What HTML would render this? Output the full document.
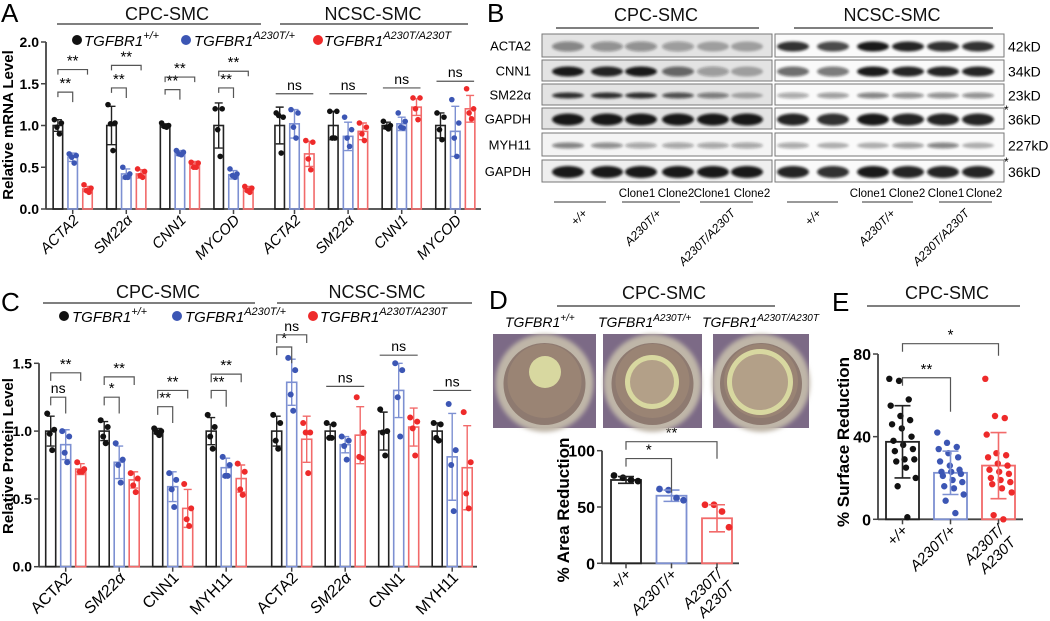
<!DOCTYPE html>
<html><head><meta charset="utf-8"><style>
html,body{margin:0;padding:0;background:#fff;}
svg{display:block;font-family:"Liberation Sans",Arial,sans-serif;}
</style></head><body>
<svg id="fig" width="1050" height="621" viewBox="0 0 1050 621" xmlns="http://www.w3.org/2000/svg">
<defs><filter id="blur" x="-20%" y="-100%" width="140%" height="300%"><feGaussianBlur stdDeviation="1.3"/></filter>
<filter id="blur2"><feGaussianBlur stdDeviation="2"/></filter></defs>
<g font-size="26" fill="#000">
<text x="1" y="22">A</text>
<text x="487" y="22">B</text>
<text x="1" y="311">C</text>
<text x="489" y="309">D</text>
<text x="832" y="311">E</text>
</g>
<g font-size="18" text-anchor="middle" fill="#111">
<text x="167" y="20">CPC-SMC</text>
<line x1="57" y1="24" x2="261" y2="24" stroke="#333" stroke-width="1.2"/>
<text x="373" y="20">NCSC-SMC</text>
<line x1="280" y1="24" x2="468" y2="24" stroke="#333" stroke-width="1.2"/>
<text x="656" y="21">CPC-SMC</text>
<line x1="556" y1="28" x2="759" y2="28" stroke="#333" stroke-width="1.2"/>
<text x="892" y="21">NCSC-SMC</text>
<line x1="794" y1="28" x2="993" y2="28" stroke="#333" stroke-width="1.2"/>
<text x="158" y="298">CPC-SMC</text>
<line x1="43" y1="303" x2="255" y2="303" stroke="#333" stroke-width="1.2"/>
<text x="377" y="298">NCSC-SMC</text>
<line x1="277" y1="303" x2="472" y2="303" stroke="#333" stroke-width="1.2"/>
<text x="664" y="299">CPC-SMC</text>
<line x1="557" y1="306" x2="775" y2="306" stroke="#333" stroke-width="1.2"/>
<text x="947" y="299">CPC-SMC</text>
<line x1="867" y1="306" x2="1020" y2="306" stroke="#333" stroke-width="1.2"/>
</g>
<g font-size="15" font-style="italic">
<circle cx="77" cy="40" r="5" fill="#111"/>
<text x="84" y="46">TGFBR1<tspan font-size="11" dy="-7">+/+</tspan></text>
<circle cx="186" cy="40" r="5" fill="#3c56b4"/>
<text x="194" y="46">TGFBR1<tspan font-size="11" dy="-7">A230T/+</tspan></text>
<circle cx="318" cy="40" r="5" fill="#ee2a2a"/>
<text x="324" y="46">TGFBR1<tspan font-size="11" dy="-7">A230T/A230T</tspan></text>
</g>
<g font-size="15" font-style="italic">
<circle cx="64" cy="316" r="5" fill="#111"/>
<text x="72" y="322">TGFBR1<tspan font-size="11" dy="-7">+/+</tspan></text>
<circle cx="177" cy="316" r="5" fill="#3c56b4"/>
<text x="185" y="322">TGFBR1<tspan font-size="11" dy="-7">A230T/+</tspan></text>
<circle cx="313" cy="316" r="5" fill="#ee2a2a"/>
<text x="320" y="322">TGFBR1<tspan font-size="11" dy="-7">A230T/A230T</tspan></text>
</g>
<g font-size="14" font-style="italic">
<text x="505" y="327">TGFBR1<tspan font-size="10" dy="-6">+/+</tspan></text>
<text x="598" y="327">TGFBR1<tspan font-size="10" dy="-6">A230T/+</tspan></text>
<text x="702" y="327">TGFBR1<tspan font-size="10" dy="-6">A230T/A230T</tspan></text>
</g>
<g id="root"></g>
</svg>
<script>
// ---------- Panel A data ----------
const aCategories = ["ACTA2","SM22α","CNN1","MYCOD","ACTA2","SM22α","CNN1","MYCOD"];
const aMeanWT  = [1.0,1.0,1.0,1.0,1.0,1.0,1.0,1.0];
const aMeanHet = [0.62,0.42,0.67,0.41,1.02,0.87,1.02,0.93];
const aMeanHom = [0.24,0.42,0.53,0.24,0.66,0.93,1.22,1.2];
const aSdWT  = [0.07,0.23,0.02,0.27,0.22,0.17,0.04,0.15];
const aSdHet = [0.05,0.06,0.03,0.05,0.17,0.17,0.08,0.30];
const aSdHom = [0.03,0.05,0.04,0.03,0.15,0.10,0.10,0.16];
const aPtsWT  = [[1.07,1.03,0.98,0.9],[1.25,1.03,1.02,0.7],[1.03,1.0,0.99,0.98],[1.2,1.2,0.95,0.63],[1.15,1.1,1.12,0.67],[1.17,1.17,0.85,0.85],[1.05,1.0,0.98,0.96],[1.15,1.1,0.95,0.83]];
const aPtsHet = [[0.66,0.64,0.62,0.55],[0.5,0.42,0.38,0.38],[0.7,0.68,0.66,0.65],[0.48,0.42,0.4,0.38],[1.19,1.15,0.98,0.85],[1.1,0.95,0.85,0.75],[1.15,1.05,0.98,0.97],[1.31,1.03,0.85,0.63]];
const aPtsHom = [[0.29,0.25,0.22,0.2],[0.48,0.45,0.4,0.38],[0.56,0.55,0.5,0.5],[0.27,0.25,0.22,0.2],[0.82,0.8,0.6,0.47],[1.03,0.98,0.9,0.82],[1.33,1.33,1.2,1.07],[1.44,1.2,1.15,1.08]];
const aTicks = [0,0.5,1.0,1.5,2.0];
const aTickLabels = ["0.0","0.5","1.0","1.5","2.0"];
const aSigLow = [1.40,1.45,1.43,1.45,null,null,null,null];
const aSigLowText = ["**","**","**","**","","","",""];
const aSigHigh = [1.67,1.72,1.58,1.65,1.38,1.38,1.45,1.53];
const aSigHighText = ["**","**","**","**","ns","ns","ns","ns"];
// ---------- Panel C data ----------
const cCategories = ["ACTA2","SM22α","CNN1","MYH11","ACTA2","SM22α","CNN1","MYH11"];
const cMeanWT  = [1.0,1.0,1.0,1.0,1.0,1.0,1.0,1.0];
const cMeanHet = [0.9,0.77,0.59,0.73,1.36,0.9,1.3,0.81];
const cMeanHom = [0.72,0.64,0.43,0.65,0.94,0.97,1.03,0.73];
const cSdWT  = [0.11,0.07,0.02,0.1,0.11,0.05,0.14,0.06];
const cSdHet = [0.11,0.12,0.11,0.07,0.17,0.06,0.2,0.32];
const cSdHom = [0.04,0.06,0.14,0.1,0.17,0.21,0.14,0.31];
const cPtsWT  = [[1.13,1.01,0.98,0.86],[1.08,1.03,0.96,0.91],[1.02,1.0,0.99,0.97],[1.12,1.03,0.96,0.87],[1.12,1.06,0.93,0.87],[1.06,1.05,0.95,0.95],[1.16,1.0,0.99,0.82],[1.06,1.05,0.95,0.93]];
const cPtsHet = [[1.0,0.96,0.84,0.77],[0.91,0.79,0.75,0.62],[0.69,0.64,0.57,0.44],[0.81,0.75,0.67,0.67],[1.54,1.45,1.27,1.15],[0.96,0.93,0.89,0.79],[1.5,1.45,1.25,0.96],[1.2,0.86,0.75,0.41]];
const cPtsHom = [[0.77,0.72,0.7,0.7],[0.69,0.65,0.6,0.55],[0.61,0.43,0.35,0.3],[0.76,0.7,0.57,0.53],[1.06,0.99,0.99,0.69],[1.25,0.99,0.81,0.8],[1.1,1.07,1.02,0.82],[1.14,0.77,0.54,0.43]];
const cTicks = [0,0.5,1.0,1.5];
const cTickLabels = ["0.0","0.5","1.0","1.5"];
const cSigLow = [1.25,1.25,1.18,1.30,1.62,null,null,null];
const cSigLowText = ["ns","*","**","**","*","","",""];
const cSigHigh = [1.43,1.40,1.30,1.42,1.71,1.33,1.56,1.30];
const cSigHighText = ["**","**","**","**","ns","ns","ns","ns"];
// ---------- Panel D data ----------
const dCategories = ["+/+","A230T/+","A230T/A230T"];
const dMeans = [74,60,40];
const dSd = [3,5,12];
const dPts = [[78,76,74,73],[66,65,58,56],[52,52,46,32]];
const dTicks = [0,50,100];
// ---------- Panel E data ----------
const eCategories = ["+/+","A230T/+","A230T/A230T"];
const eMeans = [37.5,22.5,26];
const eSd = [17.5,10.5,16];
const ePts = [[68,67,58,55,50,48,46,44,40,38,36,34,33,29,29,28,25,20,16,1],
              [42,37,35,34,32,30,28,26,24,23,23,22,21,19,18,16,15,12,9,3],
              [68,50,49,41,32,31,30,27,26,24,23,22,20,19,18,17,15,13,2,0]];
const eTicks = [0,40,80];
// ---------- Panel B (band intensities) ----------
const bRows = ["ACTA2","CNN1","SM22α","GAPDH","MYH11","GAPDH"];
const bKd = ["42kD","34kD","23kD","36kD","227kD","36kD"];
const bLeft = [[.45,.4,.4,.35,.3,.3],[.95,.9,.95,.6,.35,.3],[.85,.85,.85,.7,.5,.3],[.95,.95,.95,.95,.95,.95],[.5,.45,.35,.35,.35,.35],[.95,.95,.95,.95,.95,.95]];
const bRight = [[.85,.75,.95,.9,.85,.85],[.6,.55,.95,.9,.9,.9],[.35,.4,.5,.45,.45,.45],[.9,.85,.95,.9,.9,.9],[.35,.3,.3,.4,.5,.3],[.9,.85,.95,.9,.9,.9]];

const NS="http://www.w3.org/2000/svg";
const root=document.getElementById('root');
function mk(tag,attrs,parent){const e=document.createElementNS(NS,tag);for(const k in attrs)e.setAttribute(k,attrs[k]);(parent||root).appendChild(e);return e;}
const COL={wt:"#111",het:"#3c56b4",hom:"#ee2a2a"};
const BAR={wt:"#222",het:"#7d90d2",hom:"#f26a6a"};

function grouped(p){
  const g=mk('g',{});
  
  
  const Y=v=>p.y0-v*p.ppu;
  const X=i=>p.first+i*p.step+(i>=4?p.gap:0);
  let ax=mk('line',{x1:p.x0,y1:p.y0,x2:p.x0,y2:Y(p.ticks[p.ticks.length-1]),stroke:"#444","stroke-width":1.8},g);
  
  
  let xa=mk('line',{x1:p.x0,y1:p.y0,x2:p.xEnd,y2:p.y0,stroke:"#444","stroke-width":1.8},g);
  
  
  p.ticks.forEach((t,i)=>{
    let tk=mk('line',{x1:p.x0-5,y1:Y(t),x2:p.x0,y2:Y(t),stroke:"#444","stroke-width":1.5},g);
    
    
    let tl=mk('text',{x:p.x0-7,y:Y(t)+5,"text-anchor":"end","font-size":14,"font-weight":"bold"},g);
    tl.textContent=p.tickLabels[i];
    
    
  });
  const series=[["wt",p.mWT,p.sWT,p.pWT,-p.off],["het",p.mHet,p.sHet,p.pHet,0],["hom",p.mHom,p.sHom,p.pHom,p.off]];
  p.cats.forEach((c,i)=>{
    const cx=X(i);
    let tk=mk('line',{x1:cx,y1:p.y0,x2:cx,y2:p.y0+5,stroke:"#444","stroke-width":1.5},g);
    
    
    series.forEach(([k,m,s,pts,o])=>{
      const bx=cx+o;
      let b=mk('rect',{x:bx-p.bw/2,y:Y(m[i]),width:p.bw,height:m[i]*p.ppu,fill:"none",stroke:BAR[k],"stroke-width":1.6},g);
      
      
      let e=mk('path',{d:`M${bx},${Y(m[i]-s[i])}V${Y(m[i]+s[i])}M${bx-4},${Y(m[i]+s[i])}h8M${bx-4},${Y(m[i]-s[i])}h8`,stroke:BAR[k],"stroke-width":1.4,fill:"none"},g);
      
      
      const jit=[-3.5,3.5,-1,1.5];
      pts[i].forEach((v,j)=>{
        let d=mk('circle',{cx:bx+jit[j],cy:Y(v),r:p.r,fill:COL[k]},g);
        
        
      });
    });
    let lx=cx+7, ly=p.y0+p.lblDy;
    let lt=mk('text',{x:lx,y:ly,"text-anchor":"end","font-size":p.lblSize,transform:`rotate(-45 ${lx} ${ly})`,"font-style":(p.italicAll||c.indexOf('α')>=0)?"italic":"normal"},g);
    lt.textContent=c;
    
    
    function bracket(v,x1,x2,txt,dropL,dropR){
      if(v==null)return;
      let br=mk('path',{d:`M${x1},${Y(v-dropL)}V${Y(v)}H${x2}V${Y(v-dropR)}`,stroke:"#555","stroke-width":1.2,fill:"none"},g);
      
      
      let st=mk('text',{x:(x1+x2)/2,y:Y(v)-4,"text-anchor":"middle","font-size":txt==='ns'?14:15},g);
      st.textContent=txt;
      
      
    }
    const flat = i>=4 && !(p.sigLow[i]!=null);
    bracket(p.sigLow[i],cx-p.off,cx,p.sigLowText[i],0.06,0.12);
    if(flat){
      let v=p.sigHigh[i];
      let br=mk('path',{d:`M${cx-p.off-4},${Y(v)}H${cx+p.off+4}`,stroke:"#555","stroke-width":1.2,fill:"none"},g);
      
      
      let st=mk('text',{x:cx,y:Y(v)-4,"text-anchor":"middle","font-size":14},g);
      st.textContent=p.sigHighText[i];
      
      
    } else bracket(p.sigHigh[i],cx-p.off,cx+p.off,p.sigHighText[i],0.06,0.06);
  });
  let yt=mk('text',{x:p.ytX,y:p.ytY,"text-anchor":"middle","font-size":15,"font-weight":"bold",transform:`rotate(-90 ${p.ytX} ${p.ytY})`},g);
  yt.textContent=p.ytitle;
  
  
}
grouped({name:'panel-a-chart',x0:46,y0:209,ppu:83.5,xEnd:481,first:72.7,step:53.6,gap:7.4,off:14.8,bw:9.5,r:2.8,
  ticks:aTicks,tickLabels:aTickLabels,cats:aCategories,mWT:aMeanWT,mHet:aMeanHet,mHom:aMeanHom,sWT:aSdWT,sHet:aSdHet,sHom:aSdHom,
  pWT:aPtsWT,pHet:aPtsHet,pHom:aPtsHom,sigLow:aSigLow,sigLowText:aSigLowText,sigHigh:aSigHigh,sigHighText:aSigHighText,
  lblDy:12,lblSize:15,italicAll:true,ytitle:"Relative mRNA Level",ytX:13,ytY:125});
grouped({name:'panel-c-chart',x0:39,y0:566.7,ppu:135.6,xEnd:477,first:65.7,step:53.5,gap:12,off:15,bw:10,r:3,
  ticks:cTicks,tickLabels:cTickLabels,cats:cCategories,mWT:cMeanWT,mHet:cMeanHet,mHom:cMeanHom,sWT:cSdWT,sHet:cSdHet,sHom:cSdHom,
  pWT:cPtsWT,pHet:cPtsHet,pHom:cPtsHom,sigLow:cSigLow,sigLowText:cSigLowText,sigHigh:cSigHigh,sigHighText:cSigHighText,
  lblDy:12,lblSize:16,italicAll:false,ytitle:"Relative Protein Level",ytX:13,ytY:456});

function simple(p){
  const g=mk('g',{});
  
  
  const Y=v=>p.y0-v*p.ppu;
  const keys=["wt","het","hom"];
  let ax=mk('line',{x1:p.x0,y1:p.y0,x2:p.x0,y2:Y(p.ticks[p.ticks.length-1]),stroke:"#444","stroke-width":1.8},g);
  
  
  let xa=mk('line',{x1:p.x0,y1:p.y0,x2:p.xEnd,y2:p.y0,stroke:"#444","stroke-width":1.8},g);
  
  
  p.ticks.forEach(t=>{
    let tk=mk('line',{x1:p.x0-5,y1:Y(t),x2:p.x0,y2:Y(t),stroke:"#444","stroke-width":1.5},g);
    
    
    let tl=mk('text',{x:p.x0-7,y:Y(t)+6,"text-anchor":"end","font-size":16,"font-weight":"bold"},g);
    tl.textContent=String(t);
    
    
  });
  const cxs=[];
  p.cats.forEach((c,i)=>{
    const cx=p.first+i*p.step; cxs.push(cx); const k=keys[i];
    let b=mk('rect',{x:cx-p.bw/2,y:Y(p.means[i]),width:p.bw,height:p.means[i]*p.ppu,fill:"none",stroke:BAR[k],"stroke-width":1.8},g);
    
    
    p.pts[i].forEach((v,j)=>{
      const n=p.pts[i].length; const jx = n>4 ? ((j*7)%n/(n-1)-0.5)*p.bw*0.8 : [-12,-3,5,12][j]*p.bw/30;
      let d=mk('circle',{cx:cx+jx,cy:Y(v),r:p.r,fill:COL[k]},g);
      
      
    });
    let e=mk('path',{d:`M${cx},${Y(p.means[i]-p.sd[i])}V${Y(p.means[i]+p.sd[i])}M${cx-8},${Y(p.means[i]+p.sd[i])}h16M${cx-8},${Y(p.means[i]-p.sd[i])}h16`,stroke:BAR[k],"stroke-width":1.6,fill:"none"},g);
    
    
    let tk=mk('line',{x1:cx,y1:p.y0,x2:cx,y2:p.y0+5,stroke:"#444","stroke-width":1.5},g);
    
    
    const lines = c==="A230T/A230T" ? ["A230T/","A230T"] : [c];
    lines.forEach((ln,li)=>{
      let lx=cx+6+li*12, ly=p.y0+12+li*12;
      let lt=mk('text',{x:lx,y:ly,"text-anchor":"end","font-size":15,"font-style":"italic",transform:`rotate(-45 ${lx} ${ly})`},g);
      lt.textContent=ln;
      
      
    });
  });
  p.sig.forEach(([a,b,v,txt,dr])=>{
    let br=mk('path',{d:`M${cxs[a]},${Y(v)+8}V${Y(v)}H${cxs[b]}V${Y(v)+dr}`,stroke:"#555","stroke-width":1.2,fill:"none"},g);
    
    
    let st=mk('text',{x:(cxs[a]+cxs[b])/2,y:Y(v)-4,"text-anchor":"middle","font-size":15},g);
    st.textContent=txt;
    
    
  });
  let yt=mk('text',{x:p.ytX,y:p.ytY,"text-anchor":"middle","font-size":17,"font-weight":"bold",transform:`rotate(-90 ${p.ytX} ${p.ytY})`},g);
  yt.textContent=p.ytitle;
  
  
}
simple({name:'panel-d-chart',x0:602,y0:563.3,ppu:1.126,xEnd:739,first:626,step:45.5,bw:30,r:3.4,ticks:dTicks,cats:dCategories,means:dMeans,sd:dSd,pts:dPts,
  sig:[[0,1,93,"*",34],[0,2,108,"**",17]],ytitle:"% Area Reduction",ytX:569,ytY:510});
simple({name:'panel-e-chart',x0:878,y0:519.3,ppu:2.066,xEnd:1023,first:902.5,step:48,bw:33,r:3.2,ticks:eTicks,cats:eCategories,means:eMeans,sd:eSd,pts:ePts,
  sig:[[0,1,68.5,"**",34],[0,2,85,"*",12]],ytitle:"% Surface Reduction",ytX:849,ytY:442});

const photos=[[493,596,545,372,16,"solid"],[603,702,652,382,27,"ring"],[713,809,760,382,33,"ring"]];
photos.forEach(([x1,x2,dx,dy,dr,kind],i)=>{
  const g=mk('g',{});
  
  
  mk('rect',{x:x1,y:334,width:x2-x1,height:94,fill:"#7c6a86"},g);
  const wx=(x1+x2)/2, wy=381;
  mk('circle',{cx:wx,cy:wy+2,r:Math.min(x2-x1,94)/2+2,fill:"#bfb6a8",filter:"url(#blur2)"},g);
  mk('circle',{cx:wx,cy:wy+3,r:Math.min(x2-x1,94)/2-6,fill:"#8e7a70"},g);
  mk('circle',{cx:wx,cy:wy,r:Math.min(x2-x1,94)/2-10,fill:"#9a8474"},g);
  mk('circle',{cx:dx,cy:dy,r:dr,fill:"#d8d8a0"},g);
  if(kind==="ring") mk('circle',{cx:dx,cy:dy,r:dr-5,fill:"#b3a088"},g);
});

const rowY=[[34,57],[60,81],[84,105],[108,129],[133,156],[160,182]];
const boxes=[[542,772,bLeft,[568,607,641,678,713,747],["#e3e3e3","#e3e3e3","#e3e3e3","#e3e3e3","#f4f4f4","#efefef"]],
             [775,1004,bRight,[793,833,873,908,943,978],["#fafafa","#fafafa","#fafafa","#fafafa","#fafafa","#fafafa"]]];
const thick=[5,5,3,6,3,6];
boxes.forEach(([x1,x2,data,lanes,bgs],bi)=>{
  rowY.forEach(([y1,y2],ri)=>{
    const g=mk('g',{});
    
    
    mk('rect',{x:x1,y:y1,width:x2-x1,height:y2-y1,fill:bgs[ri],stroke:"#777","stroke-width":1},g);
    lanes.forEach((lx,li)=>{
      mk('ellipse',{cx:lx,cy:(y1+y2)/2+1,rx:16,ry:thick[ri],fill:"#111","fill-opacity":data[ri][li],filter:"url(#blur)"},g);
    });
  });
});
bRows.forEach((r,i)=>{
  let t=mk('text',{x:531,y:(rowY[i][0]+rowY[i][1])/2+5,"text-anchor":"end","font-size":13});
  t.textContent=r;
  
  
  let k=mk('text',{x:1008,y:(rowY[i][0]+rowY[i][1])/2+6,"font-size":14});
  k.textContent=bKd[i];
  
  
});
[[1004,114],[1004,166]].forEach(([x,y])=>{let s=mk('text',{x:x,y:y,"font-size":12});s.textContent="*";
  
  });
const cloneX=[[637,676,712,752],[868,907,946,984]];
cloneX.forEach(arr=>arr.forEach((x,i)=>{let t=mk('text',{x:x,y:197,"text-anchor":"middle","font-size":11.5});t.textContent=i%2?"Clone2":"Clone1";
  
  }));
const gLines=[[554,606],[622,680],[700,753],[787,838],[862,913],[939,992]];
gLines.forEach(([a,b])=>{let l=mk('line',{x1:a,y1:202,x2:b,y2:202,stroke:"#333","stroke-width":1.1});
  
  });
const gLbl=[["+/+",588,214],["A230T/+",662,214],["A230T/A230T",736,214],["+/+",822,214],["A230T/+",896,214],["A230T/A230T",970,214]];
gLbl.forEach(([s,x,y])=>{let t=mk('text',{x:x,y:y,"text-anchor":"end","font-size":12,"font-style":"italic",transform:`rotate(-45 ${x} ${y})`});t.textContent=s;
  
  });
</script>
</body></html>
